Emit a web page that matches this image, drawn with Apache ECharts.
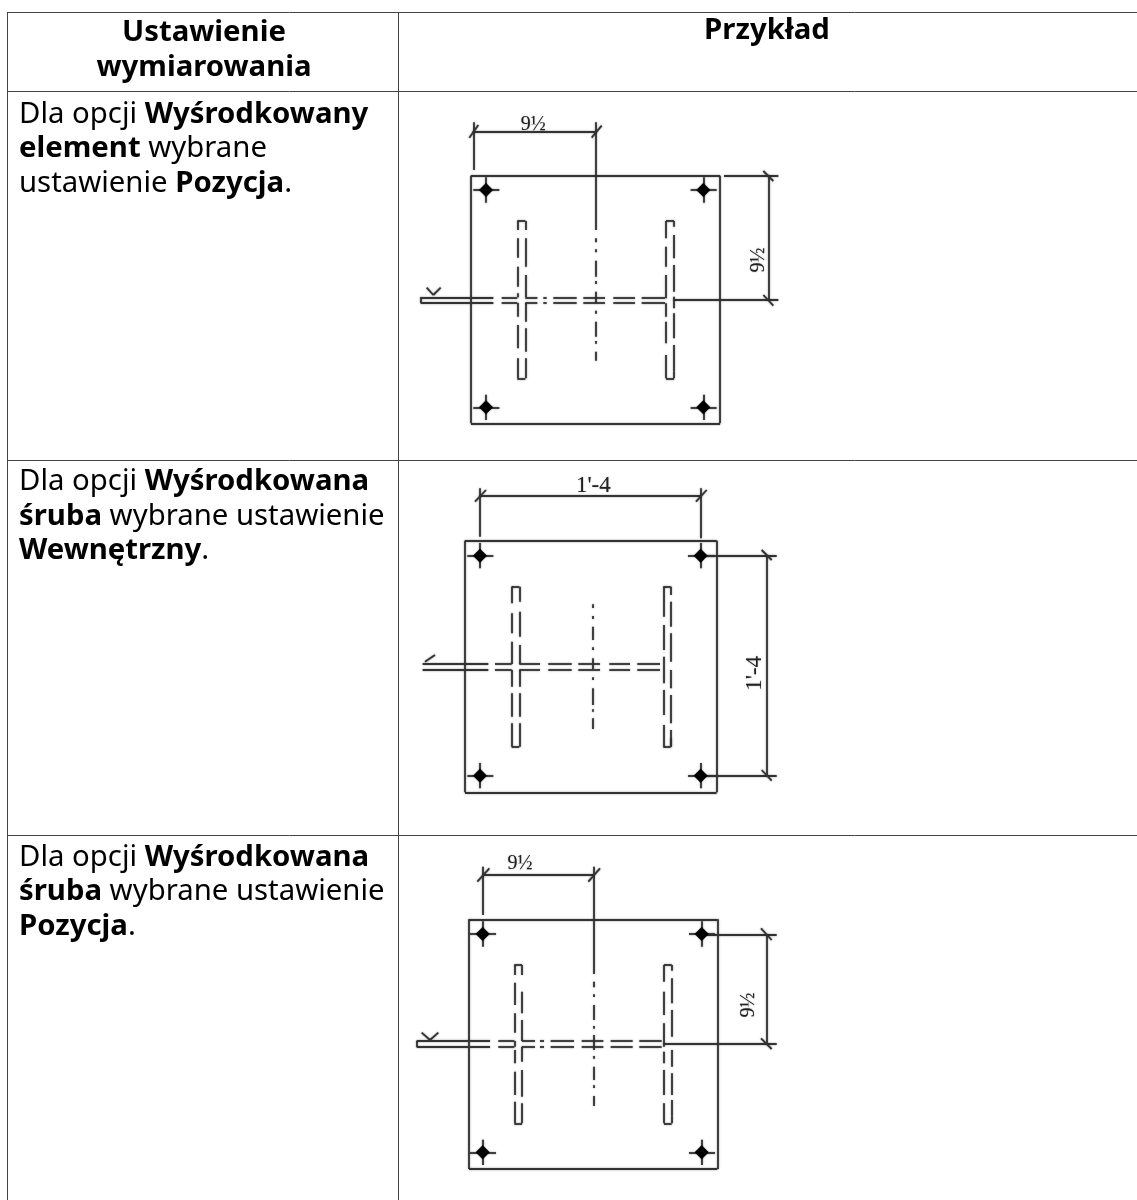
<!DOCTYPE html>
<html>
<head>
<meta charset="utf-8">
<style>
  html, body { margin: 0; padding: 0; background: #fff; }
  #main { width: 1137px; height: 1200px; }
</style>
<script src="https://cdn.jsdelivr.net/npm/echarts@6/dist/echarts.min.js"></script>
</head>
<body>
<div id="main"></div>
<script>
// table rules, in page pixels
var tableRules = [
  [7, 12, 1137, 12], [7, 91, 1137, 91], [7, 460, 1137, 460], [7, 835, 1137, 835],
  [7, 12, 7, 1200], [398, 12, 398, 1200]
];

// table text
var headerTexts = ['Ustawienie', 'wymiarowania', 'Przykład'];
var headerX = [204, 204, 767];
var headerY = [33, 68, 31];

var bodyTexts = [
  '{r|Dla opcji }{b|Wyśrodkowany}',
  '{b|element}{r| wybrane}',
  '{r|ustawienie }{b|Pozycja}{r|.}',
  '{r|Dla opcji }{b|Wyśrodkowana}',
  '{b|śruba}{r| wybrane ustawienie}',
  '{b|Wewnętrzny}{r|.}',
  '{r|Dla opcji }{b|Wyśrodkowana}',
  '{b|śruba}{r| wybrane ustawienie}',
  '{b|Pozycja}{r|.}'
];
var bodyX = [19, 19, 19, 19, 19, 19, 19, 19, 19];
var bodyY = [115, 149, 184, 482, 517, 551, 858, 892, 927];

// drawing 1 (units: 1/3 px inside its own grid)
var d1Lines = [
  [213, 242, 960, 242], [960, 242, 960, 985], [960, 985, 213, 985], [213, 985, 213, 242],
  [218, 110, 588, 110], [220, 82, 220, 225], [588, 82, 588, 405],
  [208, 128, 235, 90], [575, 128, 605, 92],
  [972, 242, 1135, 242], [820, 615, 1135, 615], [1105, 242, 1105, 615],
  [1090, 228, 1120, 258], [1090, 600, 1120, 632],
  [62, 607, 62, 624], [80, 578, 100, 600], [100, 600, 122, 578],
  [352, 378, 376, 378], [352, 850, 376, 850], [798, 378, 822, 378], [798, 850, 822, 850],
  [376, 378, 376, 405], [822, 378, 822, 395], [822, 830, 822, 850]
];
var d1Vertical = [
  [352, [[378, 405], [430, 488], [515, 575], [595, 607], [624, 665], [690, 760], [790, 850]]],
  [376, [[430, 515], [540, 607], [624, 680], [700, 770], [790, 850]]],
  [798, [[378, 430], [455, 515], [540, 610], [625, 665], [680, 745], [780, 850]]],
  [822, [[420, 490], [510, 590], [605, 640], [655, 730], [750, 830]]],
  [588, [[430, 442], [463, 472], [497, 545], [558, 567], [590, 625], [647, 656], [680, 725], [738, 746], [770, 797]]]
];
var d1Horizontal = [
  [607, [[62, 280], [305, 352], [376, 412], [430, 440], [460, 530], [550, 615], [640, 705], [725, 795]]],
  [624, [[62, 280], [305, 352], [376, 412], [430, 440], [460, 530], [550, 615], [640, 705], [725, 795]]]
];
var d1Bolts = [[258, 285], [910, 285], [258, 937], [910, 937]];
var d1Labels = [['9½', 400, 88, 0], ['9½', 1075, 495, 90]];

// drawing 2
var d2Lines = [
  [195, 212, 950, 212], [950, 212, 950, 967], [950, 967, 195, 967], [195, 967, 195, 212],
  [240, 78, 902, 78], [240, 55, 240, 200], [902, 55, 902, 205],
  [225, 95, 258, 60], [888, 95, 920, 60],
  [920, 257, 1130, 257], [920, 917, 1130, 917], [1100, 257, 1100, 917],
  [1085, 240, 1115, 270], [1085, 900, 1115, 932],
  [75, 575, 105, 555],
  [335, 350, 358, 350], [335, 830, 358, 830], [790, 350, 812, 350], [790, 830, 812, 830],
  [358, 350, 358, 395], [812, 350, 812, 375], [812, 805, 812, 830]
];
var d2Vertical = [
  [335, [[350, 400], [430, 490], [515, 582], [600, 650], [670, 740], [760, 830]]],
  [358, [[425, 500], [525, 582], [600, 650], [670, 740], [760, 830]]],
  [790, [[350, 440], [465, 540], [560, 640], [660, 735], [765, 830]]],
  [812, [[395, 470], [490, 575], [600, 655], [675, 760], [780, 830]]],
  [577, [[403, 414], [438, 447], [470, 510], [532, 540], [565, 597], [622, 630], [655, 705], [718, 725], [745, 777]]]
];
var d2Horizontal = [
  [582, [[68, 265], [285, 335], [358, 420], [445, 515], [535, 600], [628, 690], [712, 780]]],
  [600, [[68, 265], [285, 335], [358, 420], [445, 515], [535, 600], [628, 690], [712, 780]]]
];
var d2Bolts = [[240, 257], [902, 257], [240, 917], [902, 917]];
var d2Labels = [["1'-4", 580, 48, 0], ["1'-4", 1064, 610, 90]];

// drawing 3
var d3Lines = [
  [207, 208, 952, 208], [952, 208, 952, 957], [952, 957, 207, 957], [207, 957, 207, 208],
  [248, 75, 580, 75], [248, 50, 248, 195], [580, 50, 580, 372],
  [232, 95, 268, 55], [565, 95, 600, 55],
  [915, 253, 1130, 253], [790, 582, 1130, 582], [1100, 253, 1100, 582],
  [1083, 235, 1115, 270], [1083, 565, 1115, 597],
  [50, 573, 50, 590], [65, 548, 90, 570], [90, 570, 115, 548],
  [343, 345, 366, 345], [343, 820, 366, 820], [792, 345, 815, 345], [792, 820, 815, 820],
  [366, 345, 366, 375], [815, 345, 815, 362], [815, 800, 815, 820]
];
var d3Vertical = [
  [343, [[345, 375], [398, 465], [490, 548], [573, 590], [600, 640], [665, 735], [755, 820]]],
  [366, [[425, 490], [510, 573], [590, 635], [660, 740], [760, 820]]],
  [792, [[345, 395], [425, 495], [520, 590], [605, 640], [660, 735], [760, 820]]],
  [815, [[385, 460], [480, 560], [600, 650], [670, 735], [750, 800]]],
  [580, [[395, 412], [433, 441], [465, 510], [528, 536], [555, 600], [618, 626], [650, 690], [706, 714], [738, 768]]]
];
var d3Horizontal = [
  [573, [[50, 270], [295, 343], [366, 405], [420, 432], [452, 522], [545, 610], [632, 698], [718, 785]]],
  [590, [[50, 270], [295, 343], [366, 405], [420, 432], [452, 522], [545, 610], [632, 698], [718, 785]]]
];
var d3Bolts = [[248, 252], [905, 252], [248, 907], [905, 907]];
var d3Labels = [['9½', 360, 40, 0], ['9½', 1047, 465, 90]];

var inkColor = '#333';
var bodyFont = 29.33;

// turn a drawing's lists into [x1, y1, x2, y2] segments
function buildSegments(lines, vertical, horizontal, bolts) {
  var segs = lines.slice();
  vertical.forEach(function (v) {
    v[1].forEach(function (s) { segs.push([v[0], s[0], v[0], s[1]]); });
  });
  horizontal.forEach(function (h) {
    h[1].forEach(function (s) { segs.push([s[0], h[0], s[1], h[0]]); });
  });
  bolts.forEach(function (b) {
    segs.push([b[0] - 38, b[1], b[0] + 40, b[1]]);
    segs.push([b[0], b[1] - 38, b[0], b[1] + 38]);
  });
  return segs;
}

function segmentSeries(segs, index, width, color) {
  return {
    type: 'lines',
    coordinateSystem: 'cartesian2d',
    xAxisIndex: index,
    yAxisIndex: index,
    silent: true,
    polyline: false,
    lineStyle: { color: color, width: width, opacity: 1, shadowBlur: index ? 2 : 0, shadowColor: 'rgba(0,0,0,0.45)' },
    data: segs.map(function (s) { return { coords: [[s[0], s[1]], [s[2], s[3]]] }; })
  };
}

function boltSeries(bolts, index) {
  return {
    type: 'scatter', xAxisIndex: index, yAxisIndex: index, silent: true,
    symbol: 'diamond', symbolSize: 14,
    itemStyle: { color: '#000', opacity: 1, shadowBlur: 1.5, shadowColor: 'rgba(0,0,0,0.5)' },
    data: bolts
  };
}

function labelSeries(labels, index, size) {
  return {
    type: 'scatter', xAxisIndex: index, yAxisIndex: index, silent: true,
    symbolSize: 0,
    itemStyle: { opacity: 1 },
    data: labels.map(function (l) {
      return {
        value: [l[1], l[2]],
        label: {
          show: true, position: 'inside', formatter: l[0], rotate: l[3],
          fontFamily: 'Liberation Serif', fontSize: size, color: '#222',
          textShadowBlur: 1.5, textShadowColor: 'rgba(0,0,0,0.4)'
        }
      };
    })
  };
}

var drawings = [
  { lines: d1Lines, v: d1Vertical, h: d1Horizontal, bolts: d1Bolts, labels: d1Labels, top: 95, height: 345, labelSize: 20 },
  { lines: d2Lines, v: d2Vertical, h: d2Horizontal, bolts: d2Bolts, labels: d2Labels, top: 470, height: 340, labelSize: 23 },
  { lines: d3Lines, v: d3Vertical, h: d3Horizontal, bolts: d3Bolts, labels: d3Labels, top: 850, height: 350, labelSize: 20 }
];

var grids = [{ left: 0, top: 0, width: 1137, height: 1200 }];
var xAxes = [{ type: 'value', min: 0, max: 1137, show: false }];
var yAxes = [{ type: 'value', min: 0, max: 1200, inverse: true, show: false }];
var series = [
  segmentSeries(tableRules, 0, 1, '#444'),
  {
    type: 'scatter', xAxisIndex: 0, yAxisIndex: 0, silent: true, symbolSize: 0,
    itemStyle: { opacity: 1 },
    data: headerTexts.map(function (t, i) {
      return {
        value: [headerX[i], headerY[i]],
        label: {
          show: true, position: 'inside', formatter: t, align: 'center', verticalAlign: 'middle',
          fontFamily: 'Noto Sans', fontWeight: 'bold', fontSize: bodyFont, color: '#000'
        }
      };
    })
  },
  {
    type: 'scatter', xAxisIndex: 0, yAxisIndex: 0, silent: true, symbolSize: 0,
    itemStyle: { opacity: 1 },
    data: bodyTexts.map(function (t, i) {
      return {
        value: [bodyX[i], bodyY[i]],
        label: {
          show: true, position: 'right', distance: 0, formatter: t, color: '#000',
          rich: {
            r: { fontFamily: 'Noto Sans', fontSize: bodyFont, color: '#000' },
            b: { fontFamily: 'Noto Sans', fontSize: bodyFont, fontWeight: 'bold', color: '#000' }
          }
        }
      };
    })
  }
];

drawings.forEach(function (d, i) {
  var index = i + 1;
  grids.push({ left: 400, top: d.top, width: 400, height: d.height });
  xAxes.push({ type: 'value', gridIndex: index, min: 0, max: 1200, show: false });
  yAxes.push({ type: 'value', gridIndex: index, min: 0, max: d.height * 3, inverse: true, show: false });
  series.push(segmentSeries(buildSegments(d.lines, d.v, d.h, d.bolts), index, 1.8, inkColor));
  series.push(boltSeries(d.bolts, index));
  series.push(labelSeries(d.labels, index, d.labelSize));
});

var myChart = echarts.init(document.getElementById('main'));
myChart.setOption({
  animation: false,
  backgroundColor: '#fff',
  grid: grids,
  xAxis: xAxes,
  yAxis: yAxes,
  series: series
});
</script>
</body>
</html>
